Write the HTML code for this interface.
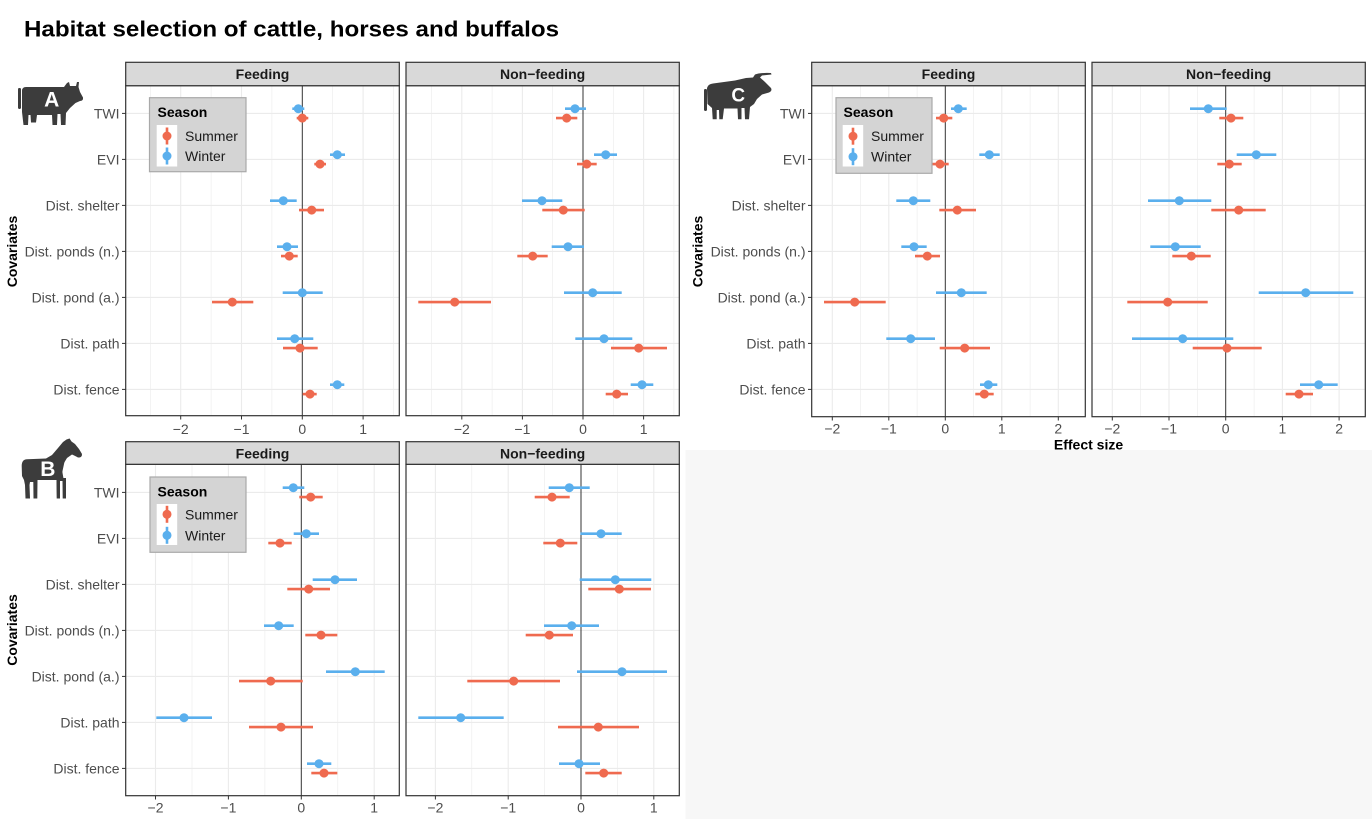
<!DOCTYPE html>
<html><head><meta charset="utf-8"><style>
html,body{margin:0;padding:0;background:#fff;}
svg{display:block;font-family:"Liberation Sans",Arial,sans-serif;}
.yl{font-size:14px;fill:#4d4d4d;text-anchor:end;}
.xl{font-size:14px;fill:#4d4d4d;text-anchor:middle;}
.st{font-size:14px;font-weight:bold;fill:#1a1a1a;text-anchor:middle;}
.gmaj{stroke:#ebebeb;stroke-width:1.1;}
.gmin{stroke:#ebebeb;stroke-width:0.6;}
.brd{fill:none;stroke:#333;stroke-width:1.2;}
.strip{fill:#d9d9d9;stroke:#333;stroke-width:1.2;}
.zl{stroke:#333;stroke-width:1;}
.tk{stroke:#333;stroke-width:1;}
.ws{stroke:#5AAFED;stroke-width:2.6;}
.ss{stroke:#EF6A4F;stroke-width:2.6;}
.wf{fill:#5AAFED;}
.sf{fill:#EF6A4F;}
.lg{fill:#d4d4d4;stroke:#a9a9a9;stroke-width:1.2;}
.lt{font-size:14px;fill:#1a1a1a;}
.ic{fill:#3c3c3c;}
.il{font-weight:bold;fill:#fff;text-anchor:middle;}
</style></head><body>
<svg width="1372" height="819" viewBox="0 0 1372 819" xmlns="http://www.w3.org/2000/svg">
<rect x="0" y="0" width="1372" height="819" fill="#fff"/>
<rect x="685.5" y="450" width="686.5" height="369" fill="#f7f7f7"/>

<text x="24" y="36.5" font-size="22" font-weight="bold" fill="#000" textLength="535" lengthAdjust="spacingAndGlyphs">Habitat selection of cattle, horses and buffalos</text>

<!-- ================= PANEL A ================= -->
<!-- icon A cow -->
<g class="ic">
<rect x="18" y="88" width="3" height="21" rx="1.2"/>
<path d="M22,91 Q22,87 26,87 L64,87 L67,83 L69,82 L70,86 L76,86 L77,82 L79,82 L78.5,87 L80,92 L83,97.5 Q83.5,101 80,101 L75.5,103 L70,108 L66,113 L65.5,125 L61,125 L60.5,114 L57.5,114 L57,125 L52.5,125 L52,115 L37,115 L36,122.5 L31,122.5 L30.5,115 L28.5,115 L28,125 L23.5,125 L22,112 Z"/>
</g>
<text class="il" x="51.7" y="106.7" font-size="21">A</text>

<text transform="translate(16.8,251.5) rotate(-90)" font-size="14" font-weight="bold" fill="#000" text-anchor="middle">Covariates</text>

<!-- y labels A -->
<text class="yl" x="119.5" y="118.4">TWI</text>
<text class="yl" x="119.5" y="164.4">EVI</text>
<text class="yl" x="119.5" y="210.4">Dist. shelter</text>
<text class="yl" x="119.5" y="256.4">Dist. ponds (n.)</text>
<text class="yl" x="119.5" y="302.4">Dist. pond (a.)</text>
<text class="yl" x="119.5" y="348.4">Dist. path</text>
<text class="yl" x="119.5" y="394.4">Dist. fence</text>
<g class="tk">
<line x1="122" x2="125.7" y1="113.4" y2="113.4"/><line x1="122" x2="125.7" y1="159.4" y2="159.4"/><line x1="122" x2="125.7" y1="205.4" y2="205.4"/><line x1="122" x2="125.7" y1="251.4" y2="251.4"/><line x1="122" x2="125.7" y1="297.4" y2="297.4"/><line x1="122" x2="125.7" y1="343.4" y2="343.4"/><line x1="122" x2="125.7" y1="389.4" y2="389.4"/>
</g>

<!-- A Feeding -->
<rect x="125.7" y="85.7" width="273.6" height="330" fill="#fff"/>
<g class="gmin">
<line x1="150.3" x2="150.3" y1="85.7" y2="415.7"/><line x1="211.1" x2="211.1" y1="85.7" y2="415.7"/><line x1="271.9" x2="271.9" y1="85.7" y2="415.7"/><line x1="332.7" x2="332.7" y1="85.7" y2="415.7"/><line x1="393.5" x2="393.5" y1="85.7" y2="415.7"/>
</g>
<g class="gmaj">
<line x1="180.7" x2="180.7" y1="85.7" y2="415.7"/><line x1="241.5" x2="241.5" y1="85.7" y2="415.7"/><line x1="363.1" x2="363.1" y1="85.7" y2="415.7"/>
<line x1="125.7" x2="399.3" y1="113.4" y2="113.4"/><line x1="125.7" x2="399.3" y1="159.4" y2="159.4"/><line x1="125.7" x2="399.3" y1="205.4" y2="205.4"/><line x1="125.7" x2="399.3" y1="251.4" y2="251.4"/><line x1="125.7" x2="399.3" y1="297.4" y2="297.4"/><line x1="125.7" x2="399.3" y1="343.4" y2="343.4"/><line x1="125.7" x2="399.3" y1="389.4" y2="389.4"/>
</g>
<line class="zl" x1="302.3" x2="302.3" y1="85.7" y2="415.7"/>
<g class="ws">
<line x1="292.3" x2="304.3" y1="108.7" y2="108.7"/><line x1="330" x2="345" y1="154.7" y2="154.7"/><line x1="270" x2="296.7" y1="200.7" y2="200.7"/><line x1="277" x2="298" y1="246.7" y2="246.7"/><line x1="282.7" x2="322.7" y1="292.7" y2="292.7"/><line x1="277" x2="313.3" y1="338.7" y2="338.7"/><line x1="330" x2="344.3" y1="384.7" y2="384.7"/>
</g>
<g class="wf">
<circle cx="298.3" cy="108.7" r="4.5"/><circle cx="337.3" cy="154.7" r="4.5"/><circle cx="283.3" cy="200.7" r="4.5"/><circle cx="287" cy="246.7" r="4.5"/><circle cx="302.3" cy="292.7" r="4.5"/><circle cx="294.7" cy="338.7" r="4.5"/><circle cx="337.3" cy="384.7" r="4.5"/>
</g>
<g class="ss">
<line x1="296.7" x2="308.3" y1="118.1" y2="118.1"/><line x1="314.3" x2="326" y1="164.1" y2="164.1"/><line x1="299" x2="324" y1="210.1" y2="210.1"/><line x1="281" x2="297.7" y1="256.1" y2="256.1"/><line x1="212" x2="253.3" y1="302.1" y2="302.1"/><line x1="283" x2="317.7" y1="348.1" y2="348.1"/><line x1="302.7" x2="316.7" y1="394.1" y2="394.1"/>
</g>
<g class="sf">
<circle cx="302.3" cy="118.1" r="4.5"/><circle cx="320" cy="164.1" r="4.5"/><circle cx="311.7" cy="210.1" r="4.5"/><circle cx="289.3" cy="256.1" r="4.5"/><circle cx="232.3" cy="302.1" r="4.5"/><circle cx="300" cy="348.1" r="4.5"/><circle cx="310" cy="394.1" r="4.5"/>
</g>
<rect class="brd" x="125.7" y="85.7" width="273.6" height="330"/>
<rect class="strip" x="125.7" y="62.3" width="273.6" height="23.4"/>
<text class="st" x="262.5" y="79">Feeding</text>
<!-- legend A -->
<rect class="lg" x="149.5" y="97.7" width="96.5" height="74"/>
<text x="157.5" y="117" font-size="14" font-weight="bold" fill="#000">Season</text>
<rect x="156.7" y="125" width="20.5" height="41.5" fill="#fff"/>
<line x1="167" x2="167" y1="127.5" y2="144.5" stroke="#EF6A4F" stroke-width="2.6"/><circle cx="167" cy="136" r="4.5" fill="#EF6A4F"/>
<line x1="167" x2="167" y1="147.5" y2="164.5" stroke="#5AAFED" stroke-width="2.6"/><circle cx="167" cy="156" r="4.5" fill="#5AAFED"/>
<text class="lt" x="185" y="141">Summer</text>
<text class="lt" x="185" y="161">Winter</text>
<!-- x ticks A F -->
<g class="tk"><line x1="180.7" x2="180.7" y1="415.7" y2="419.5"/><line x1="241.5" x2="241.5" y1="415.7" y2="419.5"/><line x1="302.3" x2="302.3" y1="415.7" y2="419.5"/><line x1="363.1" x2="363.1" y1="415.7" y2="419.5"/></g>
<text class="xl" x="180.7" y="434">−2</text><text class="xl" x="241.5" y="434">−1</text><text class="xl" x="302.3" y="434">0</text><text class="xl" x="363.1" y="434">1</text>

<!-- A Non-feeding -->
<rect x="406" y="85.7" width="273.3" height="330" fill="#fff"/>
<g class="gmin">
<line x1="431.5" x2="431.5" y1="85.7" y2="415.7"/><line x1="492.1" x2="492.1" y1="85.7" y2="415.7"/><line x1="552.7" x2="552.7" y1="85.7" y2="415.7"/><line x1="613.3" x2="613.3" y1="85.7" y2="415.7"/><line x1="673.9" x2="673.9" y1="85.7" y2="415.7"/>
</g>
<g class="gmaj">
<line x1="461.8" x2="461.8" y1="85.7" y2="415.7"/><line x1="522.4" x2="522.4" y1="85.7" y2="415.7"/><line x1="643.6" x2="643.6" y1="85.7" y2="415.7"/>
<line x1="406" x2="679.3" y1="113.4" y2="113.4"/><line x1="406" x2="679.3" y1="159.4" y2="159.4"/><line x1="406" x2="679.3" y1="205.4" y2="205.4"/><line x1="406" x2="679.3" y1="251.4" y2="251.4"/><line x1="406" x2="679.3" y1="297.4" y2="297.4"/><line x1="406" x2="679.3" y1="343.4" y2="343.4"/><line x1="406" x2="679.3" y1="389.4" y2="389.4"/>
</g>
<line class="zl" x1="583" x2="583" y1="85.7" y2="415.7"/>
<g class="ws">
<line x1="565" x2="586" y1="108.7" y2="108.7"/><line x1="594" x2="617" y1="154.7" y2="154.7"/><line x1="522" x2="562.3" y1="200.7" y2="200.7"/><line x1="551.7" x2="584" y1="246.7" y2="246.7"/><line x1="564" x2="621.7" y1="292.7" y2="292.7"/><line x1="575.3" x2="632.3" y1="338.7" y2="338.7"/><line x1="630.7" x2="653.3" y1="384.7" y2="384.7"/>
</g>
<g class="wf">
<circle cx="575" cy="108.7" r="4.5"/><circle cx="605.7" cy="154.7" r="4.5"/><circle cx="542" cy="200.7" r="4.5"/><circle cx="568" cy="246.7" r="4.5"/><circle cx="592.7" cy="292.7" r="4.5"/><circle cx="604" cy="338.7" r="4.5"/><circle cx="642" cy="384.7" r="4.5"/>
</g>
<g class="ss">
<line x1="556" x2="577.3" y1="118.1" y2="118.1"/><line x1="577" x2="596.7" y1="164.1" y2="164.1"/><line x1="542.3" x2="584.7" y1="210.1" y2="210.1"/><line x1="517.3" x2="547.7" y1="256.1" y2="256.1"/><line x1="418.3" x2="491" y1="302.1" y2="302.1"/><line x1="611" x2="667" y1="348.1" y2="348.1"/><line x1="605.7" x2="628" y1="394.1" y2="394.1"/>
</g>
<g class="sf">
<circle cx="566.7" cy="118.1" r="4.5"/><circle cx="586.7" cy="164.1" r="4.5"/><circle cx="563.3" cy="210.1" r="4.5"/><circle cx="532.7" cy="256.1" r="4.5"/><circle cx="454.7" cy="302.1" r="4.5"/><circle cx="638.7" cy="348.1" r="4.5"/><circle cx="616.7" cy="394.1" r="4.5"/>
</g>
<rect class="brd" x="406" y="85.7" width="273.3" height="330"/>
<rect class="strip" x="406" y="62.3" width="273.3" height="23.4"/>
<text class="st" x="542.6" y="79">Non−feeding</text>
<g class="tk"><line x1="461.8" x2="461.8" y1="415.7" y2="419.5"/><line x1="522.4" x2="522.4" y1="415.7" y2="419.5"/><line x1="583" x2="583" y1="415.7" y2="419.5"/><line x1="643.6" x2="643.6" y1="415.7" y2="419.5"/></g>
<text class="xl" x="461.8" y="434">−2</text><text class="xl" x="522.4" y="434">−1</text><text class="xl" x="583" y="434">0</text><text class="xl" x="643.6" y="434">1</text>

<!-- ================= PANEL B ================= -->
<g class="ic">
<path d="M69.5,438.5 L71.5,441.5 L75,444 L79,449 L82,454 L81,457 L78,457.5 L72,454 L68,456 L62,465 L60.5,468 L61,478 L60,478.5 L60,498.5 L57,498.5 L56.5,480 L63,480 L63,498.5 L66,498.5 L66,478 L65,478 L64,478 L61,478 Z"/>
<path d="M66.5,439.5 L69.5,438.5 L72,443 L76,446 L80,451 L82,455 Q81.5,457.5 78.5,457.5 L72,454.5 L67,458 L62.5,465.5 L62,470 L63.5,478.5 L66,479 L66,498.5 L62.7,498.5 L62.5,481 L60,481 L60,498.5 L56.7,498.5 L56.5,480 L37.5,480 L37.3,498.5 L33.5,498.5 L33.3,482 L30,482 L29.5,485 L30,498.5 L25.5,498.5 L25,485 L24,480 L22,476 L21.7,466 Q21.7,459.5 27,459.3 L46,458.5 L52,455 L58,448 L63,442 Z"/>
</g>
<text class="il" x="47.8" y="476" font-size="21">B</text>

<text transform="translate(16.8,630) rotate(-90)" font-size="14" font-weight="bold" fill="#000" text-anchor="middle">Covariates</text>

<text class="yl" x="119.5" y="497.4">TWI</text>
<text class="yl" x="119.5" y="543.4">EVI</text>
<text class="yl" x="119.5" y="589.4">Dist. shelter</text>
<text class="yl" x="119.5" y="635.4">Dist. ponds (n.)</text>
<text class="yl" x="119.5" y="681.4">Dist. pond (a.)</text>
<text class="yl" x="119.5" y="727.4">Dist. path</text>
<text class="yl" x="119.5" y="773.4">Dist. fence</text>
<g class="tk">
<line x1="122" x2="125.7" y1="492.4" y2="492.4"/><line x1="122" x2="125.7" y1="538.4" y2="538.4"/><line x1="122" x2="125.7" y1="584.4" y2="584.4"/><line x1="122" x2="125.7" y1="630.4" y2="630.4"/><line x1="122" x2="125.7" y1="676.4" y2="676.4"/><line x1="122" x2="125.7" y1="722.4" y2="722.4"/><line x1="122" x2="125.7" y1="768.4" y2="768.4"/>
</g>

<!-- B Feeding -->
<rect x="125.7" y="464.3" width="273.6" height="331.4" fill="#fff"/>
<g class="gmin">
<line x1="192" x2="192" y1="464.3" y2="795.7"/><line x1="264.9" x2="264.9" y1="464.3" y2="795.7"/><line x1="337.8" x2="337.8" y1="464.3" y2="795.7"/>
</g>
<g class="gmaj">
<line x1="155.5" x2="155.5" y1="464.3" y2="795.7"/><line x1="228.4" x2="228.4" y1="464.3" y2="795.7"/><line x1="374.2" x2="374.2" y1="464.3" y2="795.7"/>
<line x1="125.7" x2="399.3" y1="492.4" y2="492.4"/><line x1="125.7" x2="399.3" y1="538.4" y2="538.4"/><line x1="125.7" x2="399.3" y1="584.4" y2="584.4"/><line x1="125.7" x2="399.3" y1="630.4" y2="630.4"/><line x1="125.7" x2="399.3" y1="676.4" y2="676.4"/><line x1="125.7" x2="399.3" y1="722.4" y2="722.4"/><line x1="125.7" x2="399.3" y1="768.4" y2="768.4"/>
</g>
<line class="zl" x1="301.3" x2="301.3" y1="464.3" y2="795.7"/>
<g class="ws">
<line x1="282.7" x2="304.3" y1="487.7" y2="487.7"/><line x1="293.7" x2="319" y1="533.7" y2="533.7"/><line x1="312.7" x2="357" y1="579.7" y2="579.7"/><line x1="264" x2="293.7" y1="625.7" y2="625.7"/><line x1="326" x2="384.7" y1="671.7" y2="671.7"/><line x1="156.3" x2="212" y1="717.7" y2="717.7"/><line x1="307" x2="331.3" y1="763.7" y2="763.7"/>
</g>
<g class="wf">
<circle cx="293.3" cy="487.7" r="4.5"/><circle cx="306.3" cy="533.7" r="4.5"/><circle cx="335" cy="579.7" r="4.5"/><circle cx="278.7" cy="625.7" r="4.5"/><circle cx="355.3" cy="671.7" r="4.5"/><circle cx="184" cy="717.7" r="4.5"/><circle cx="319" cy="763.7" r="4.5"/>
</g>
<g class="ss">
<line x1="299.3" x2="322.7" y1="497.1" y2="497.1"/><line x1="268.3" x2="291.7" y1="543.1" y2="543.1"/><line x1="287.3" x2="330" y1="589.1" y2="589.1"/><line x1="305.3" x2="337.3" y1="635.1" y2="635.1"/><line x1="239" x2="302.7" y1="681.1" y2="681.1"/><line x1="249" x2="313" y1="727.1" y2="727.1"/><line x1="311.3" x2="337.3" y1="773.1" y2="773.1"/>
</g>
<g class="sf">
<circle cx="310.7" cy="497.1" r="4.5"/><circle cx="280" cy="543.1" r="4.5"/><circle cx="308.7" cy="589.1" r="4.5"/><circle cx="321" cy="635.1" r="4.5"/><circle cx="270.7" cy="681.1" r="4.5"/><circle cx="281" cy="727.1" r="4.5"/><circle cx="324" cy="773.1" r="4.5"/>
</g>
<rect class="brd" x="125.7" y="464.3" width="273.6" height="331.4"/>
<rect class="strip" x="125.7" y="441.7" width="273.6" height="22.6"/>
<text class="st" x="262.5" y="458.3">Feeding</text>
<!-- legend B -->
<rect class="lg" x="150" y="477" width="96" height="75.3"/>
<text x="157.5" y="496.5" font-size="14" font-weight="bold" fill="#000">Season</text>
<rect x="156.7" y="504" width="20.5" height="41" fill="#fff"/>
<line x1="167" x2="167" y1="505.8" y2="522.8" stroke="#EF6A4F" stroke-width="2.6"/><circle cx="167" cy="514.3" r="4.5" fill="#EF6A4F"/>
<line x1="167" x2="167" y1="526.8" y2="543.8" stroke="#5AAFED" stroke-width="2.6"/><circle cx="167" cy="535.3" r="4.5" fill="#5AAFED"/>
<text class="lt" x="185" y="519.3">Summer</text>
<text class="lt" x="185" y="540.3">Winter</text>
<g class="tk"><line x1="155.5" x2="155.5" y1="795.7" y2="799.5"/><line x1="228.4" x2="228.4" y1="795.7" y2="799.5"/><line x1="301.3" x2="301.3" y1="795.7" y2="799.5"/><line x1="374.2" x2="374.2" y1="795.7" y2="799.5"/></g>
<text class="xl" x="155.5" y="812.7">−2</text><text class="xl" x="228.4" y="812.7">−1</text><text class="xl" x="301.3" y="812.7">0</text><text class="xl" x="374.2" y="812.7">1</text>

<!-- B Non-feeding -->
<rect x="406" y="464.3" width="273.3" height="331.4" fill="#fff"/>
<g class="gmin">
<line x1="471.8" x2="471.8" y1="464.3" y2="795.7"/><line x1="544.6" x2="544.6" y1="464.3" y2="795.7"/><line x1="617.4" x2="617.4" y1="464.3" y2="795.7"/>
</g>
<g class="gmaj">
<line x1="435.4" x2="435.4" y1="464.3" y2="795.7"/><line x1="508.2" x2="508.2" y1="464.3" y2="795.7"/><line x1="653.8" x2="653.8" y1="464.3" y2="795.7"/>
<line x1="406" x2="679.3" y1="492.4" y2="492.4"/><line x1="406" x2="679.3" y1="538.4" y2="538.4"/><line x1="406" x2="679.3" y1="584.4" y2="584.4"/><line x1="406" x2="679.3" y1="630.4" y2="630.4"/><line x1="406" x2="679.3" y1="676.4" y2="676.4"/><line x1="406" x2="679.3" y1="722.4" y2="722.4"/><line x1="406" x2="679.3" y1="768.4" y2="768.4"/>
</g>
<line class="zl" x1="581" x2="581" y1="464.3" y2="795.7"/>
<g class="ws">
<line x1="548.7" x2="589.7" y1="487.7" y2="487.7"/><line x1="580.3" x2="621.7" y1="533.7" y2="533.7"/><line x1="579.7" x2="651.3" y1="579.7" y2="579.7"/><line x1="544" x2="599" y1="625.7" y2="625.7"/><line x1="577" x2="667" y1="671.7" y2="671.7"/><line x1="418.3" x2="503.7" y1="717.7" y2="717.7"/><line x1="559" x2="600" y1="763.7" y2="763.7"/>
</g>
<g class="wf">
<circle cx="569.3" cy="487.7" r="4.5"/><circle cx="601" cy="533.7" r="4.5"/><circle cx="615.3" cy="579.7" r="4.5"/><circle cx="571.7" cy="625.7" r="4.5"/><circle cx="622" cy="671.7" r="4.5"/><circle cx="460.7" cy="717.7" r="4.5"/><circle cx="579" cy="763.7" r="4.5"/>
</g>
<g class="ss">
<line x1="534.7" x2="569.7" y1="497.1" y2="497.1"/><line x1="543.3" x2="577.3" y1="543.1" y2="543.1"/><line x1="588.3" x2="651" y1="589.1" y2="589.1"/><line x1="525.7" x2="573" y1="635.1" y2="635.1"/><line x1="467.3" x2="560" y1="681.1" y2="681.1"/><line x1="558" x2="639" y1="727.1" y2="727.1"/><line x1="585.3" x2="621.7" y1="773.1" y2="773.1"/>
</g>
<g class="sf">
<circle cx="552" cy="497.1" r="4.5"/><circle cx="560.3" cy="543.1" r="4.5"/><circle cx="619.3" cy="589.1" r="4.5"/><circle cx="549.3" cy="635.1" r="4.5"/><circle cx="513.7" cy="681.1" r="4.5"/><circle cx="598.3" cy="727.1" r="4.5"/><circle cx="603.7" cy="773.1" r="4.5"/>
</g>
<rect class="brd" x="406" y="464.3" width="273.3" height="331.4"/>
<rect class="strip" x="406" y="441.7" width="273.3" height="22.6"/>
<text class="st" x="542.6" y="458.3">Non−feeding</text>
<g class="tk"><line x1="435.4" x2="435.4" y1="795.7" y2="799.5"/><line x1="508.2" x2="508.2" y1="795.7" y2="799.5"/><line x1="581" x2="581" y1="795.7" y2="799.5"/><line x1="653.8" x2="653.8" y1="795.7" y2="799.5"/></g>
<text class="xl" x="435.4" y="812.7">−2</text><text class="xl" x="508.2" y="812.7">−1</text><text class="xl" x="581" y="812.7">0</text><text class="xl" x="653.8" y="812.7">1</text>

<!-- ================= PANEL C ================= -->
<g class="ic">
<rect x="704" y="89" width="3" height="22" rx="1.2"/>
<path d="M707,88 Q708,84 713,83.5 L735,80.5 L746,78 L753,77.5 L755,74.5 Q760,72.5 771,73 L771.5,74.5 L762,75.5 L760,77.5 L765,82 L771,88 Q772.5,91 769,92.5 L762,94.5 L757,99 L754,104 L750,107 L749,119.3 L745,119.3 L744.5,108 L741.5,108 L741.5,119.3 L738,119.3 L737.5,108.5 L724,108.5 L722.7,119.3 L719.3,119.3 L719,110 L716.7,110 L716.7,119.3 L712.7,119.3 L712,108 L707.5,104 Z"/>
</g>
<text class="il" x="738.3" y="101.7" font-size="19">C</text>

<text transform="translate(702.5,251.5) rotate(-90)" font-size="14" font-weight="bold" fill="#000" text-anchor="middle">Covariates</text>
<text x="1088.5" y="449.3" font-size="14" font-weight="bold" fill="#000" text-anchor="middle">Effect size</text>

<text class="yl" x="805.5" y="118.4">TWI</text>
<text class="yl" x="805.5" y="164.4">EVI</text>
<text class="yl" x="805.5" y="210.4">Dist. shelter</text>
<text class="yl" x="805.5" y="256.4">Dist. ponds (n.)</text>
<text class="yl" x="805.5" y="302.4">Dist. pond (a.)</text>
<text class="yl" x="805.5" y="348.4">Dist. path</text>
<text class="yl" x="805.5" y="394.4">Dist. fence</text>
<g class="tk">
<line x1="808" x2="811.7" y1="113.4" y2="113.4"/><line x1="808" x2="811.7" y1="159.4" y2="159.4"/><line x1="808" x2="811.7" y1="205.4" y2="205.4"/><line x1="808" x2="811.7" y1="251.4" y2="251.4"/><line x1="808" x2="811.7" y1="297.4" y2="297.4"/><line x1="808" x2="811.7" y1="343.4" y2="343.4"/><line x1="808" x2="811.7" y1="389.4" y2="389.4"/>
</g>

<!-- C Feeding -->
<rect x="811.7" y="85.7" width="273.6" height="331" fill="#fff"/>
<g class="gmin">
<line x1="860.6" x2="860.6" y1="85.7" y2="416.7"/><line x1="917.1" x2="917.1" y1="85.7" y2="416.7"/><line x1="973.6" x2="973.6" y1="85.7" y2="416.7"/><line x1="1030.1" x2="1030.1" y1="85.7" y2="416.7"/>
</g>
<g class="gmaj">
<line x1="832.3" x2="832.3" y1="85.7" y2="416.7"/><line x1="888.8" x2="888.8" y1="85.7" y2="416.7"/><line x1="1001.8" x2="1001.8" y1="85.7" y2="416.7"/><line x1="1058.3" x2="1058.3" y1="85.7" y2="416.7"/>
<line x1="811.7" x2="1085.3" y1="113.4" y2="113.4"/><line x1="811.7" x2="1085.3" y1="159.4" y2="159.4"/><line x1="811.7" x2="1085.3" y1="205.4" y2="205.4"/><line x1="811.7" x2="1085.3" y1="251.4" y2="251.4"/><line x1="811.7" x2="1085.3" y1="297.4" y2="297.4"/><line x1="811.7" x2="1085.3" y1="343.4" y2="343.4"/><line x1="811.7" x2="1085.3" y1="389.4" y2="389.4"/>
</g>
<line class="zl" x1="945.3" x2="945.3" y1="85.7" y2="416.7"/>
<g class="ws">
<line x1="951" x2="966.7" y1="108.7" y2="108.7"/><line x1="979.3" x2="999.7" y1="154.7" y2="154.7"/><line x1="896.3" x2="930.3" y1="200.7" y2="200.7"/><line x1="901.3" x2="926.7" y1="246.7" y2="246.7"/><line x1="936" x2="986.7" y1="292.7" y2="292.7"/><line x1="886.3" x2="935" y1="338.7" y2="338.7"/><line x1="980" x2="997.3" y1="384.7" y2="384.7"/>
</g>
<g class="wf">
<circle cx="958.3" cy="108.7" r="4.5"/><circle cx="989.3" cy="154.7" r="4.5"/><circle cx="913.3" cy="200.7" r="4.5"/><circle cx="914" cy="246.7" r="4.5"/><circle cx="961.3" cy="292.7" r="4.5"/><circle cx="910.7" cy="338.7" r="4.5"/><circle cx="988.3" cy="384.7" r="4.5"/>
</g>
<g class="ss">
<line x1="936" x2="952.3" y1="118.1" y2="118.1"/><line x1="931.7" x2="948.7" y1="164.1" y2="164.1"/><line x1="939.3" x2="976" y1="210.1" y2="210.1"/><line x1="915" x2="940" y1="256.1" y2="256.1"/><line x1="824" x2="885.7" y1="302.1" y2="302.1"/><line x1="939.7" x2="990" y1="348.1" y2="348.1"/><line x1="975.3" x2="993.7" y1="394.1" y2="394.1"/>
</g>
<g class="sf">
<circle cx="943.7" cy="118.1" r="4.5"/><circle cx="940" cy="164.1" r="4.5"/><circle cx="957.3" cy="210.1" r="4.5"/><circle cx="927.3" cy="256.1" r="4.5"/><circle cx="854.7" cy="302.1" r="4.5"/><circle cx="964.7" cy="348.1" r="4.5"/><circle cx="984.3" cy="394.1" r="4.5"/>
</g>
<rect class="brd" x="811.7" y="85.7" width="273.6" height="331"/>
<rect class="strip" x="811.7" y="62.3" width="273.6" height="23.4"/>
<text class="st" x="948.5" y="79">Feeding</text>
<!-- legend C -->
<rect class="lg" x="836" y="97.7" width="96" height="75.6"/>
<text x="843.5" y="117" font-size="14" font-weight="bold" fill="#000">Season</text>
<rect x="842.7" y="125" width="20.5" height="41.5" fill="#fff"/>
<line x1="853" x2="853" y1="127.7" y2="144.7" stroke="#EF6A4F" stroke-width="2.6"/><circle cx="853" cy="136.2" r="4.5" fill="#EF6A4F"/>
<line x1="853" x2="853" y1="148.2" y2="165.2" stroke="#5AAFED" stroke-width="2.6"/><circle cx="853" cy="156.7" r="4.5" fill="#5AAFED"/>
<text class="lt" x="871" y="141.2">Summer</text>
<text class="lt" x="871" y="161.7">Winter</text>
<g class="tk"><line x1="832.3" x2="832.3" y1="416.7" y2="420.5"/><line x1="888.8" x2="888.8" y1="416.7" y2="420.5"/><line x1="945.3" x2="945.3" y1="416.7" y2="420.5"/><line x1="1001.8" x2="1001.8" y1="416.7" y2="420.5"/><line x1="1058.3" x2="1058.3" y1="416.7" y2="420.5"/></g>
<text class="xl" x="832.3" y="433.3">−2</text><text class="xl" x="888.8" y="433.3">−1</text><text class="xl" x="945.3" y="433.3">0</text><text class="xl" x="1001.8" y="433.3">1</text><text class="xl" x="1058.3" y="433.3">2</text>

<!-- C Non-feeding -->
<rect x="1092" y="85.7" width="273.3" height="331" fill="#fff"/>
<g class="gmin">
<line x1="1140.7" x2="1140.7" y1="85.7" y2="416.7"/><line x1="1197.4" x2="1197.4" y1="85.7" y2="416.7"/><line x1="1254.1" x2="1254.1" y1="85.7" y2="416.7"/><line x1="1310.8" x2="1310.8" y1="85.7" y2="416.7"/>
</g>
<g class="gmaj">
<line x1="1112.3" x2="1112.3" y1="85.7" y2="416.7"/><line x1="1169" x2="1169" y1="85.7" y2="416.7"/><line x1="1282.4" x2="1282.4" y1="85.7" y2="416.7"/><line x1="1339.1" x2="1339.1" y1="85.7" y2="416.7"/>
<line x1="1092" x2="1365.3" y1="113.4" y2="113.4"/><line x1="1092" x2="1365.3" y1="159.4" y2="159.4"/><line x1="1092" x2="1365.3" y1="205.4" y2="205.4"/><line x1="1092" x2="1365.3" y1="251.4" y2="251.4"/><line x1="1092" x2="1365.3" y1="297.4" y2="297.4"/><line x1="1092" x2="1365.3" y1="343.4" y2="343.4"/><line x1="1092" x2="1365.3" y1="389.4" y2="389.4"/>
</g>
<line class="zl" x1="1225.7" x2="1225.7" y1="85.7" y2="416.7"/>
<g class="ws">
<line x1="1190" x2="1226.7" y1="108.7" y2="108.7"/><line x1="1236.7" x2="1276.3" y1="154.7" y2="154.7"/><line x1="1148" x2="1211.3" y1="200.7" y2="200.7"/><line x1="1150.3" x2="1200.7" y1="246.7" y2="246.7"/><line x1="1258.7" x2="1353.3" y1="292.7" y2="292.7"/><line x1="1132" x2="1233.3" y1="338.7" y2="338.7"/><line x1="1300" x2="1337.7" y1="384.7" y2="384.7"/>
</g>
<g class="wf">
<circle cx="1208.3" cy="108.7" r="4.5"/><circle cx="1256.3" cy="154.7" r="4.5"/><circle cx="1179.3" cy="200.7" r="4.5"/><circle cx="1175.3" cy="246.7" r="4.5"/><circle cx="1305.7" cy="292.7" r="4.5"/><circle cx="1182.7" cy="338.7" r="4.5"/><circle cx="1318.7" cy="384.7" r="4.5"/>
</g>
<g class="ss">
<line x1="1219.3" x2="1243.3" y1="118.1" y2="118.1"/><line x1="1217.3" x2="1241.7" y1="164.1" y2="164.1"/><line x1="1211.3" x2="1265.7" y1="210.1" y2="210.1"/><line x1="1172.3" x2="1210.7" y1="256.1" y2="256.1"/><line x1="1127.3" x2="1207.7" y1="302.1" y2="302.1"/><line x1="1192.7" x2="1261.7" y1="348.1" y2="348.1"/><line x1="1285.7" x2="1313" y1="394.1" y2="394.1"/>
</g>
<g class="sf">
<circle cx="1231" cy="118.1" r="4.5"/><circle cx="1229.3" cy="164.1" r="4.5"/><circle cx="1238.7" cy="210.1" r="4.5"/><circle cx="1191.3" cy="256.1" r="4.5"/><circle cx="1167.7" cy="302.1" r="4.5"/><circle cx="1227" cy="348.1" r="4.5"/><circle cx="1299" cy="394.1" r="4.5"/>
</g>
<rect class="brd" x="1092" y="85.7" width="273.3" height="331"/>
<rect class="strip" x="1092" y="62.3" width="273.3" height="23.4"/>
<text class="st" x="1228.6" y="79">Non−feeding</text>
<g class="tk"><line x1="1112.3" x2="1112.3" y1="416.7" y2="420.5"/><line x1="1169" x2="1169" y1="416.7" y2="420.5"/><line x1="1225.7" x2="1225.7" y1="416.7" y2="420.5"/><line x1="1282.4" x2="1282.4" y1="416.7" y2="420.5"/><line x1="1339.1" x2="1339.1" y1="416.7" y2="420.5"/></g>
<text class="xl" x="1112.3" y="433.3">−2</text><text class="xl" x="1169" y="433.3">−1</text><text class="xl" x="1225.7" y="433.3">0</text><text class="xl" x="1282.4" y="433.3">1</text><text class="xl" x="1339.1" y="433.3">2</text>
</svg>
</body></html>
